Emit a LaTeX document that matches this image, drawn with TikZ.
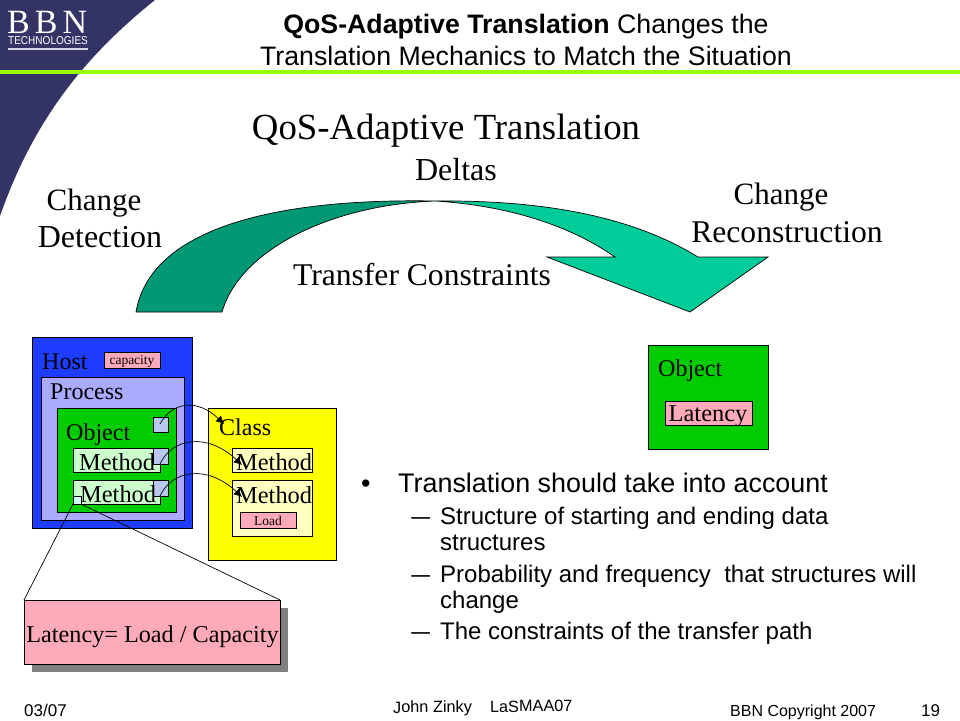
\documentclass[tikz,border=0pt]{standalone}
\usepackage{fontspec}
\setmainfont{Liberation Serif}
\newfontfamily\arialf{Liberation Sans}
\usetikzlibrary{arrows.meta}
\definecolor{navyb}{HTML}{333366}
\definecolor{limeb}{HTML}{99FF00}
\definecolor{darkteal}{HTML}{009973}
\definecolor{lightteal}{HTML}{00CC99}
\definecolor{hostb}{HTML}{1F3DFF}
\definecolor{procb}{HTML}{AAAAFF}
\definecolor{objg}{HTML}{00CC00}
\definecolor{methg}{HTML}{CCFFCC}
\definecolor{squareb}{HTML}{B8C8F0}
\definecolor{pinkb}{HTML}{FFAAB8}
\definecolor{creamb}{HTML}{FFFFC0}
\definecolor{cyanb}{HTML}{CCFFFF}
\definecolor{yellowb}{HTML}{FFFF00}
\definecolor{shadowb}{HTML}{808080}
\tikzset{
 x=1pt,y=-1pt,
 boxs/.style={draw=black,line width=0.8pt,inner sep=0pt,outer sep=0pt,anchor=north west},
 lab/.style={inner sep=0pt,anchor=base west,font=\fontsize{#1}{#1}\selectfont},
 labc/.style={inner sep=0pt,anchor=base,font=\fontsize{#1}{#1}\selectfont},
 sans/.style={inner sep=0pt,anchor=base west,font=\arialf\fontsize{#1}{#1}\selectfont},
 sansc/.style={inner sep=0pt,anchor=base,font=\arialf\fontsize{#1}{#1}\selectfont},
 link/.style={line width=0.7pt,-{Latex[length=8pt,width=8pt]}},
 zoomline/.style={line width=0.7pt},
}
% \bx{name}{fill}{x1}{y1}{x2}{y2}
\newcommand{\bx}[6]{%
 \pgfmathsetmacro{\bw}{#5-#3}\pgfmathsetmacro{\bh}{#6-#4}%
 \node[boxs,fill=#2,minimum width=\bw pt,minimum height=\bh pt] (#1) at (#3,#4) {};}
\begin{document}
\begin{tikzpicture}
\useasboundingbox (0,0) rectangle (960,720);
\fill[white] (0,0) rectangle (960,720);
% decorative corner
\fill[navyb] (0,0) -- (155,0) .. controls (80,60) and (32,125) .. (0,216) -- cycle;
\fill[limeb] (0,70) rectangle (960,74);
\node[lab=34,text=white] (logo) at (7,33) {B\kern5pt B\kern5pt N};
\node[sans=11.4,text=white,xscale=0.88] (logot) at (8,44.5) {TECHNOLOGIES};
\fill[white!80!navyb] (8,48) rectangle (88,49.5);
% titles
\node[sansc=26.7] (title1) at (526,33) {\textbf{QoS-Adaptive Translation} Changes the};
\node[sansc=26.7] (title2) at (526,65) {Translation Mechanics to Match the Situation};
\node[labc=36.8] (main) at (446,139) {QoS-Adaptive Translation};
\node[labc=32] (deltas) at (456,180) {Deltas};
\node[labc=31] (detect) at (94,210) {Change};
\node[labc=32] (detect2) at (100,247) {Detection};
\node[labc=31] (recon) at (781,204) {Change};
\node[labc=31.6] (recon2) at (787,242) {Reconstruction};
\node[labc=31.6] (tc) at (422,285) {Transfer Constraints};
% big arrow
\draw[line width=0.7pt,fill=lightteal,line join=miter] (435,201) .. controls (540,200) and (630,215) .. (698,257) -- (768,257) -- (690,312) -- (547,257) -- (615,257) .. controls (565,222) and (500,205) .. (435,201) -- cycle;
\draw[line width=0.7pt,fill=darkteal] (435,201) .. controls (270,198) and (150,230) .. (136,312) -- (222,312) .. controls (240,250) and (330,205) .. (435,201) -- cycle;
% host stack
\bx{host}{hostb}{32}{337}{192}{528}
\bx{cap}{pinkb}{104}{352}{160}{368}
\node[labc=13.5] (captext) at (132,364) {capacity};
\node[lab=24] (hostlab) at (42,369) {Host};
\bx{proc}{procb}{41}{377}{184}{520}
\node[lab=24] (proclab) at (50,399) {Process};
\bx{obj}{objg}{57}{408}{176}{512}
\node[lab=24] (objlab) at (66,440) {Object};
\bx{m1}{methg}{73}{448}{160}{472}
\bx{m2}{methg}{73}{480}{160}{504}
\bx{sq0}{squareb}{153}{417}{168}{432}
\bx{sq1}{squareb}{153}{448}{168}{464}
\bx{sq2}{squareb}{153}{480}{168}{496}
\node[lab=24.4] (m1lab) at (79,470) {Method};
\node[lab=24.4] (m2lab) at (80,502) {Method};
\bx{tiny}{cyanb}{73}{496}{81}{504}
% class
\bx{cls}{yellowb}{208}{408}{336}{560}
\node[lab=24] (clslab) at (219,435) {Class};
\bx{cm1}{creamb}{232}{448}{312}{472}
\node[lab=24.4] (cm1lab) at (236,470) {Method};
\bx{cm2}{creamb}{232}{480}{312}{536}
\node[lab=24.4] (cm2lab) at (236,503) {Method};
\bx{load}{pinkb}{240}{512}{296}{528}
\node[labc=13.5] (loadtext) at (268,525) {Load};
% connectors
\coordinate (e0) at (224,424);
\coordinate (e1) at (242,465);
\coordinate (e2) at (242,497);
\coordinate (s0) at (160,424);
\coordinate (s1) at (160,464);
\coordinate (s2) at (160,496);
\draw[link] (s0) .. controls (172,402) and (197,398) .. (e0);
\draw[link] (s1) .. controls (172,438) and (207,432) .. (e1);
\draw[link] (s2) .. controls (172,470) and (207,464) .. (e2);
% call-out
\fill[shadowb] (32,608) rectangle (288,672);
\bx{lat}{pinkb}{24}{600}{280}{664}
\node[labc=24.2] (lattext) at (152.5,642) {Latency= Load / Capacity};
\draw[zoomline] (tiny.south west) -- (lat.north west);
\draw[zoomline] (tiny.south east) -- (lat.north east);
% object right
\bx{obj2}{objg}{648}{345}{768}{449}
\node[lab=24] (obj2lab) at (658,376) {Object};
\bx{lat2}{pinkb}{665}{401}{752}{425}
\node[labc=24.4] (lat2lab) at (708,421) {Latency};
% bullets
\node[sans=26.9] (b0) at (361,492) {•};
\node[sans=26.9] (b1) at (398,492) {Translation should take into account};
\node[sans=24,xscale=1.4] (d1) at (411,524) {–};
\node[sans=24] (s1a) at (440,524) {Structure of starting and ending data};
\node[sans=24] (s1b) at (440,550) {structures};
\node[sans=24,xscale=1.4] (d2) at (411,582) {–};
\node[sans=24] (s2a) at (440,582) {Probability and frequency\ \ that structures will};
\node[sans=24] (s2b) at (440,608) {change};
\node[sans=24,xscale=1.4] (d3) at (411,639) {–};
\node[sans=24] (s3) at (440,639) {The constraints of the transfer path};
% footer
\node[sans=17] (fdate) at (24,716) {03/07};
\node[sans=16.3,rotate=0.5] (fname) at (393,713) {John Zinky\ \ \ \ LaSMAA07};
\node[sans=16] (fcopy) at (730,716) {BBN Copyright 2007};
\node[sans=17] (fnum) at (921,716) {19};
\end{tikzpicture}
\end{document}
